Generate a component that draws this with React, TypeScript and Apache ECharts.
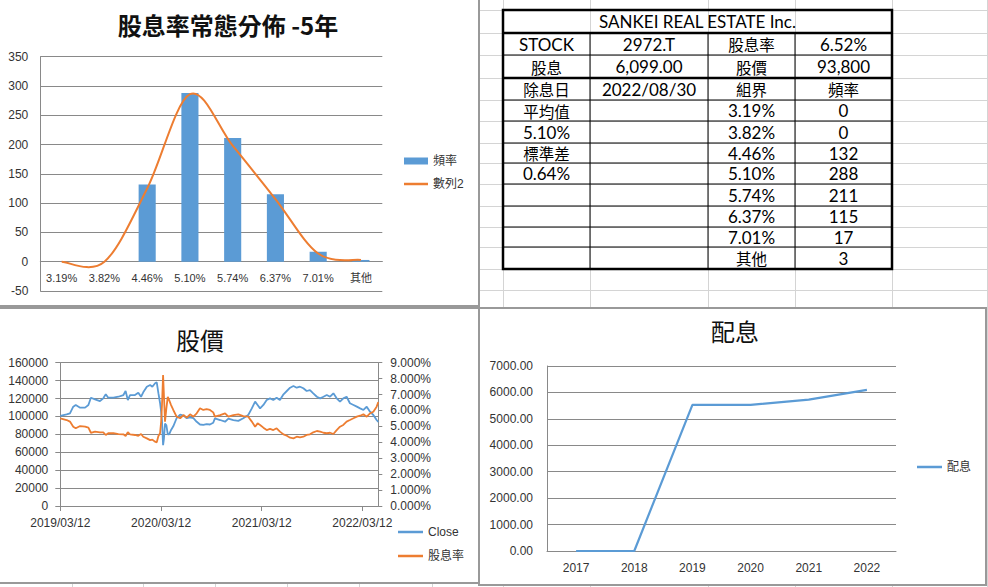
import React, { useEffect, useRef } from 'react';
import * as echarts from 'echarts';

// ---------- data ----------
const binLabels = ['3.19%', '3.82%', '4.46%', '5.10%', '5.74%', '6.37%', '7.01%', '其他'];
const binFreq = [0, 0, 132, 288, 211, 115, 17, 3];
const normalCurve = [0, 0, 125, 286, 198, 107, 14, 3];

const priceDates = [
  '2019/03/12', '2019/04/04', '2019/04/16', '2019/04/28', '2019/05/07', '2019/05/23', '2019/06/10', '2019/06/22',
  '2019/07/01', '2019/07/16', '2019/08/03', '2019/08/15', '2019/08/24', '2019/09/02', '2019/09/21', '2019/10/09',
  '2019/10/27', '2019/11/04', '2019/11/12', '2019/11/20', '2019/12/08', '2019/12/20', '2019/12/30', '2020/01/07',
  '2020/01/20', '2020/02/01', '2020/02/09', '2020/02/19', '2020/02/25', '2020/03/02', '2020/03/08', '2020/03/12',
  '2020/03/15', '2020/03/19', '2020/03/22', '2020/03/26', '2020/03/31', '2020/04/05', '2020/04/10', '2020/04/17',
  '2020/04/25', '2020/05/07', '2020/05/20', '2020/06/01', '2020/06/13', '2020/06/25', '2020/07/07', '2020/07/19',
  '2020/07/31', '2020/08/12', '2020/08/24', '2020/09/05', '2020/09/17', '2020/09/23', '2020/10/12', '2020/10/30',
  '2020/11/11', '2020/11/29', '2020/12/17', '2021/01/04', '2021/01/22', '2021/02/04', '2021/02/16', '2021/02/25',
  '2021/03/06', '2021/03/18', '2021/03/30', '2021/04/11', '2021/04/23', '2021/05/05', '2021/05/17', '2021/05/30',
  '2021/06/11', '2021/06/23', '2021/07/05', '2021/07/17', '2021/07/29', '2021/08/10', '2021/08/22', '2021/09/03',
  '2021/09/15', '2021/09/28', '2021/10/10', '2021/10/22', '2021/11/03', '2021/11/15', '2021/11/27', '2021/12/09',
  '2021/12/21', '2022/01/02', '2022/01/14', '2022/01/26', '2022/02/08', '2022/02/20', '2022/03/04', '2022/03/16',
  '2022/03/28', '2022/04/09', '2022/04/21', '2022/05/03', '2022/05/09',
];
const closePrices = [
  100500, 102300, 103500, 110900, 112800, 109800, 109800, 112800,
  120900, 119100, 117200, 120200, 124700, 120900, 120900, 122000,
  123900, 128400, 118300, 123900, 123900, 126500, 122000, 126900,
  133200, 135100, 133200, 137000, 138100, 126000, 115000, 105000,
  95000, 68000, 75000, 92000, 90000, 80000, 80000, 84900,
  89000, 98000, 102000, 101000, 98000, 99000, 98000, 94000,
  91000, 90500, 91500, 91000, 93000, 97900, 96000, 94100,
  97500, 96000, 95000, 97900, 101600, 109000, 116500, 112800,
  109000, 112800, 118300, 120200, 118300, 120900, 118300, 124700,
  128400, 132100, 134000, 132100, 133200, 131400, 128400, 129500,
  125800, 122000, 120200, 122000, 123900, 122000, 125800, 120200,
  116500, 120200, 122000, 114700, 112800, 110900, 109000, 107200,
  110900, 105300, 101600, 96000, 93800,
];
const yieldPct = [
  5.51, 5.40, 5.30, 4.98, 4.88, 5.02, 4.98, 4.92,
  4.60, 4.67, 4.63, 4.63, 4.46, 4.57, 4.57, 4.52,
  4.50, 4.40, 4.63, 4.50, 4.46, 4.41, 4.52, 4.35,
  4.25, 4.14, 4.17, 4.04, 4.00, 4.40, 4.57, 5.30,
  6.34, 8.23, 6.97, 5.30, 6.14, 6.86, 6.65, 6.34,
  6.03, 5.61, 5.51, 5.71, 5.55, 5.76, 5.61, 5.82,
  6.14, 6.03, 6.08, 6.03, 5.88, 5.61, 5.71, 5.82,
  5.61, 5.71, 5.76, 5.65, 5.61, 5.30, 4.98, 5.19,
  5.09, 4.92, 4.77, 4.84, 4.77, 4.88, 4.67, 4.50,
  4.41, 4.29, 4.25, 4.35, 4.31, 4.35, 4.46, 4.50,
  4.63, 4.71, 4.67, 4.60, 4.57, 4.60, 4.52, 4.77,
  4.98, 5.09, 5.30, 5.40, 5.51, 5.61, 5.67, 5.76,
  5.61, 5.82, 5.92, 6.24, 6.52,
];
const priceAxisStart = '2019/03/12';
const priceAxisEnd = '2022/05/09';
const priceTickDates = ['2019/03/12', '2020/03/12', '2021/03/12', '2022/03/12'];

const divYears = ['2017', '2018', '2019', '2020', '2021', '2022'];
const dividends = [0, 0, 5530, 5530, 5730, 6099];
const divTicks = [0, 1000, 2000, 3000, 4000, 5000, 6000, 7000];

const companyName = 'SANKEI REAL ESTATE Inc.';
const infoRows = [
  ['STOCK', '2972.T', '股息率', '6.52%'],
  ['股息', '6,099.00', '股價', '93,800'],
  ['除息日', '2022/08/30', '組界', '頻率'],
];
const statsCol = ['平均值', '5.10%', '標準差', '0.64%'];

// ---------- helpers ----------
const DAY = 86400000;
const ts = (s: string) => {
  const [y, m, d] = s.split('/').map(Number);
  return Date.UTC(y, m - 1, d);
};
const dayOf = (s: string) => Math.round((ts(s) - ts(priceAxisStart)) / DAY);
const pad = (n: number) => String(n).padStart(2, '0');
const fmtDay = (v: number) => {
  const d = new Date(ts(priceAxisStart) + Math.round(v) * DAY);
  return `${d.getUTCFullYear()}/${pad(d.getUTCMonth() + 1)}/${pad(d.getUTCDate())}`;
};

const GRAY = '#898989';
const LABEL = '#333';
const SANS = "'Liberation Sans', 'Noto Sans CJK TC', sans-serif";
const CJK = "'Noto Sans CJK TC', sans-serif";
const BLUE = '#5B9BD5';
const ORANGE = '#ED7D31';

// sheet layout (positions only)
const sheetCols = [72, 143, 215, 287, 359, 432, 503, 590, 708, 795, 892, 987];
const sheetRows = [10, 33, 55, 78, 100, 121, 143, 163, 184, 206, 227, 247, 269, 290];
const tblX = [503, 590, 708, 795, 892];
const tblY = [10, 33, 55, 78, 100, 121, 143, 163, 184, 206, 227, 247, 269];
// chart-3 panel box (page pixels)
const P3 = { left: 479, top: 308, width: 508, height: 279 };

const isCJK = (s: string) => /[\u3400-\u9fff]/.test(s);

function buildTable(): any[] {
  const els: any[] = [];
  const x0 = tblX[0], x1 = tblX[tblX.length - 1];
  const y0 = tblY[0], y1 = tblY[tblY.length - 1];
  for (let i = 1; i < tblY.length - 1; i++) {
    const thick = i === 1 || i === 3;
    els.push({
      type: 'line', z: 50,
      shape: { x1: x0, y1: tblY[i], x2: x1, y2: tblY[i] },
      style: { stroke: '#000', lineWidth: thick ? 2.5 : 1 },
    });
  }
  for (let j = 1; j < tblX.length - 1; j++) {
    els.push({
      type: 'line', z: 50,
      shape: { x1: tblX[j], y1: tblY[1], x2: tblX[j], y2: y1 },
      style: { stroke: '#000', lineWidth: 1 },
    });
  }
  els.push({
    type: 'rect', z: 51,
    shape: { x: x0, y: y0, width: x1 - x0, height: y1 - y0 },
    style: { fill: 'none', stroke: '#000', lineWidth: 2.5 },
  });
  const cell = (text: string, cx: number, cy: number) => {
    if (!text) return;
    const cjk = isCJK(text);
    els.push({
      type: 'text', z: 52, x: cx, y: cy,
      style: {
        text, fill: '#000', textAlign: 'center', verticalAlign: 'middle',
        fontSize: cjk ? 15.5 : 17, lineHeight: 17,
        fontFamily: cjk ? CJK : "Lato, 'Noto Sans CJK TC', sans-serif",
      },
    });
  };
  const colC = (j: number) => (tblX[j] + tblX[j + 1]) / 2;
  const rowC = (i: number) => (tblY[i] + tblY[i + 1]) / 2;
  cell(companyName, (x0 + x1) / 2, rowC(0));
  infoRows.forEach((r, i) => r.forEach((t, j) => cell(t, colC(j), rowC(i + 1))));
  binLabels.forEach((lab, k) => {
    const i = 4 + k;
    cell(statsCol[k] || '', colC(0), rowC(i));
    cell(lab, colC(2), rowC(i));
    cell(String(binFreq[k]), colC(3), rowC(i));
  });
  return els;
}

// Excel-style smoothed line through the data points (Catmull-Rom as cubic Bezier)
function smoothCurveItem(params: any, api: any) {
  if (params.dataIndex !== 0) return null;
  const pts = normalCurve.map((v, i) => api.coord([i, v]));
  const n = pts.length;
  let d = `M${pts[0][0]},${pts[0][1]}`;
  for (let i = 0; i < n - 1; i++) {
    const p0 = pts[Math.max(i - 1, 0)];
    const p1 = pts[i];
    const p2 = pts[i + 1];
    const p3 = pts[Math.min(i + 2, n - 1)];
    const c1x = p1[0] + (p2[0] - p0[0]) / 6;
    const c1y = p1[1] + (p2[1] - p0[1]) / 6;
    const c2x = p2[0] - (p3[0] - p1[0]) / 6;
    const c2y = p2[1] - (p3[1] - p1[1]) / 6;
    d += ` C${c1x},${c1y} ${c2x},${c2y} ${p2[0]},${p2[1]}`;
  }
  return {
    type: 'path',
    shape: { pathData: d },
    style: { fill: 'none', stroke: ORANGE, lineWidth: 2 },
  };
}

const legendText = { fontSize: 12, color: LABEL, fontFamily: SANS };
const lineLegend = (name: string, left: number, cy: number, w: number) => ({
  data: [{ name, icon: 'rect' }], left, top: cy - 7, itemWidth: w, itemHeight: 2.5,
  padding: 0, textStyle: legendText,
});

export default function App() {
  const ref = useRef<HTMLDivElement>(null);
  const ref3 = useRef<HTMLDivElement>(null);
  useEffect(() => {
    if (!ref.current || !ref3.current) return;
    const chart = echarts.init(ref.current, undefined, { renderer: 'svg' });
    const chart3 = echarts.init(ref3.current, undefined, { renderer: 'svg' });
    const tickDays = priceTickDates.map(dayOf);
    const option: any = {
      animation: false,
      backgroundColor: 'transparent',
      title: [
        { text: '股息率常態分佈 -5年', left: 228, top: 12, textAlign: 'center', padding: 0,
          textStyle: { fontSize: 24, fontWeight: 'bold', fontFamily: CJK, color: '#111' } },
        { text: '股價', left: 200, top: 327, textAlign: 'center', padding: 0,
          textStyle: { fontSize: 24, fontWeight: 'normal', fontFamily: CJK, color: '#111' } },
        { text: '配息', left: 735, top: 318, textAlign: 'center', padding: 0,
          textStyle: { fontSize: 24, fontWeight: 'normal', fontFamily: CJK, color: '#111' } },
      ],
      legend: [
        { data: [{ name: '頻率', icon: 'rect' }], left: 404, top: 155, itemWidth: 24, itemHeight: 7, padding: 0, textStyle: legendText },
        lineLegend('數列2', 404, 185, 24),
        lineLegend('Close', 398, 533, 25),
        lineLegend('股息率', 398, 557, 25),
      ],
      grid: [
        { left: 40.3, right: 605.7, top: 56.7, bottom: 296 },
        { left: 60.3, right: 609.7, top: 362.7, bottom: 81 },
      ],
      xAxis: [
        {
          gridIndex: 0, type: 'category', data: binLabels, position: 'bottom',
          offset: -(587 - 296 - 56.7) * 50 / 400,
          axisLine: { onZero: false, lineStyle: { color: GRAY } },
          axisTick: { show: false },
          axisLabel: { interval: 0, fontSize: 11, color: LABEL, margin: 11, fontFamily: SANS },
        },
        {
          gridIndex: 1, type: 'value', min: 0, max: dayOf(priceAxisEnd),
          axisLine: { onZero: false, lineStyle: { color: GRAY } },
          axisTick: { show: true, length: 5, customValues: tickDays, lineStyle: { color: GRAY } },
          axisLabel: { customValues: tickDays, formatter: (v: number) => fmtDay(v),
            fontSize: 12, color: LABEL, margin: 11, fontFamily: SANS },
          splitLine: { show: false },
        },
      ],
      yAxis: [
        {
          gridIndex: 0, type: 'value', min: -50, max: 350, interval: 50,
          axisLine: { show: true, lineStyle: { color: GRAY } },
          axisTick: { show: false },
          axisLabel: { fontSize: 12, color: LABEL, margin: 12, fontFamily: SANS },
          splitLine: { lineStyle: { color: GRAY } },
        },
        {
          gridIndex: 1, type: 'value', min: 0, max: 160000, interval: 20000, position: 'left',
          axisLine: { show: true, lineStyle: { color: GRAY } },
          axisTick: { show: true, length: 5, lineStyle: { color: GRAY } },
          axisLabel: { fontSize: 12, color: LABEL, margin: 12, fontFamily: SANS, formatter: (v: number) => String(v) },
          splitLine: { lineStyle: { color: GRAY } },
        },
        {
          gridIndex: 1, type: 'value', min: 0, max: 9, interval: 1, position: 'right',
          axisLine: { show: true, lineStyle: { color: GRAY } },
          axisTick: { show: true, length: 4, lineStyle: { color: GRAY } },
          axisLabel: { fontSize: 12, color: LABEL, margin: 12, fontFamily: SANS, formatter: (v: number) => `${v.toFixed(3)}%` },
          splitLine: { show: false },
        },
      ],
      series: [
        { name: '頻率', type: 'bar', xAxisIndex: 0, yAxisIndex: 0, data: binFreq, barWidth: '40%',
          itemStyle: { color: BLUE } },
        { name: '數列2', type: 'custom', xAxisIndex: 0, yAxisIndex: 0,
          data: normalCurve.map((v, i) => [i, v]), encode: { x: 0, y: 1 },
          renderItem: smoothCurveItem, itemStyle: { color: ORANGE }, z: 3 },
        { name: 'Close', type: 'line', xAxisIndex: 1, yAxisIndex: 1,
          data: priceDates.map((d, i) => [dayOf(d), closePrices[i]]),
          symbol: 'none', lineStyle: { color: BLUE, width: 1.8 }, itemStyle: { color: BLUE } },
        { name: '股息率', type: 'line', xAxisIndex: 1, yAxisIndex: 2,
          data: priceDates.map((d, i) => [dayOf(d), yieldPct[i]]),
          symbol: 'none', lineStyle: { color: ORANGE, width: 1.8 }, itemStyle: { color: ORANGE } },
      ],
      graphic: buildTable(),
    };
    chart.setOption(option);

    // chart 3 (dividends) in its own instance, coordinates relative to its panel
    const g3 = { left: 547 - P3.left, right: P3.left + P3.width - 896, top: 366 - P3.top, bottom: P3.top + P3.height - 551 };
    const option3: any = {
      animation: false,
      backgroundColor: 'transparent',
      legend: lineLegend('配息', 917 - P3.left, 468 - P3.top, 25),
      grid: g3,
      xAxis: {
        type: 'category', data: divYears,
        axisLine: { lineStyle: { color: GRAY } },
        axisTick: { show: false },
        axisLabel: { fontSize: 12, color: LABEL, margin: 11, fontFamily: SANS },
      },
      yAxis: {
        type: 'value', min: 0, max: 7000, interval: 1000,
        axisLine: { show: true, lineStyle: { color: GRAY } },
        axisTick: { show: false },
        axisLabel: { show: false },
        splitLine: { lineStyle: { color: GRAY } },
      },
      series: [
        { name: '配息', type: 'line', data: dividends,
          symbol: 'none', lineStyle: { color: BLUE, width: 2.2 }, itemStyle: { color: BLUE } },
      ],
    };
    chart3.setOption(option3);
    // y-axis tick labels of chart 3, placed through the axis scale
    chart3.setOption({
      graphic: divTicks.map((v) => ({
        type: 'text',
        x: g3.left - 14,
        y: chart3.convertToPixel({ yAxisIndex: 0 }, v) as number,
        style: {
          text: v.toFixed(2), fill: LABEL, textAlign: 'right', verticalAlign: 'middle',
          fontSize: 12, fontFamily: SANS,
        },
      })),
    });
    return () => {
      chart.dispose();
      chart3.dispose();
    };
  }, []);

  const panel = (l: number, t: number, w: number, h: number) => (
    <div style={{ position: 'absolute', left: l, top: t, width: w, height: h, boxSizing: 'border-box',
      border: '2px solid #999', background: '#fff' }} />
  );

  return (
    <div style={{ position: 'absolute', left: 0, top: 0, width: 988, height: 587, background: '#fff', overflow: 'hidden' }}>
      {sheetCols.map((x) => (
        <div key={'c' + x} style={{ position: 'absolute', left: x, top: 0, width: 1, height: 587, background: '#d4d4d4' }} />
      ))}
      {sheetRows.map((y) => (
        <div key={'r' + y} style={{ position: 'absolute', left: 0, top: y, width: 988, height: 1, background: '#d4d4d4' }} />
      ))}
      {panel(-3, -3, 483, 310)}
      {panel(-3, 307, 483, 277)}
      {panel(478, 307, 509, 279)}
      <div ref={ref} style={{ position: 'absolute', left: 0, top: 0, width: 988, height: 587 }} />
      <div ref={ref3} style={{ position: 'absolute', left: P3.left, top: P3.top, width: P3.width, height: P3.height }} />
    </div>
  );
}
